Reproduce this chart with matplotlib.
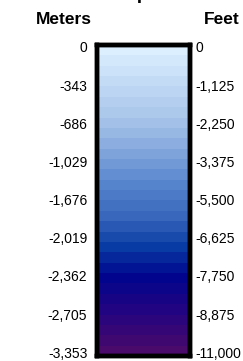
import numpy as np
import matplotlib
matplotlib.use("Agg")
import matplotlib.pyplot as plt
from matplotlib.colors import LinearSegmentedColormap

# depth legend values
meters = [0, -343, -686, -1029, -1676, -2019, -2362, -2705, -3353]
feet = [0, -1125, -2250, -3375, -5500, -6625, -7750, -8875, -11000]

# colour stops of the depth ramp (top -> bottom)
ramp_pos = [0.0, 0.25, 0.45, 0.55, 0.65, 0.75, 0.86, 1.0]
ramp_col = ["#dcefff", "#a2c0e8", "#5684cc", "#3a68bc", "#0a3ea6",
            "#00058e", "#200482", "#4a0a6c"]

plt.rcParams['font.family'] = ['Liberation Sans', 'DejaVu Sans']

fig = plt.figure(figsize=(2.43, 3.61), dpi=100)
ax = fig.add_axes([97 / 243, 5 / 361, 93 / 243, 311 / 361])

cmap = LinearSegmentedColormap.from_list("depth", list(zip(ramp_pos, ramp_col)), N=30)
grad = np.linspace(0, 1, 30).reshape(-1, 1)
n = len(meters)
lo, hi = n - 1 + 0.1, -0.05
ax.imshow(grad, cmap=cmap, aspect="auto", interpolation="nearest",
          extent=[0, 1, lo, hi])
ax.set_xlim(0, 1)
ax.set_ylim(lo, hi)
ax.set_xticks([])

ax.set_yticks(range(n))
ax.set_yticklabels([f"{v:,}" for v in meters], fontsize=10)
ax.tick_params(axis="y", length=0, pad=7)

ax2 = ax.twinx()
ax2.set_ylim(lo, hi)
ax2.set_yticks(range(n))
ax2.set_yticklabels([f"{v:,}" for v in feet], fontsize=10)
ax2.tick_params(axis="y", length=0, pad=4)

for a in (ax, ax2):
    for s in a.spines.values():
        s.set_linewidth(3.2)
        s.set_color("black")

fig.text(64 / 243, 1 - 20 / 361, "Meters", ha="center", va="center",
         fontsize=12.5, fontweight="bold")
fig.text(222 / 243, 1 - 20 / 361, "Feet", ha="center", va="center",
         fontsize=12.5, fontweight="bold")
# title sits mostly above the visible area
fig.text(140 / 243, 1 + 1 / 361, "Depth", ha="center", va="baseline",
         fontsize=14, fontweight="bold")

fig.savefig("out.png", dpi=100)
